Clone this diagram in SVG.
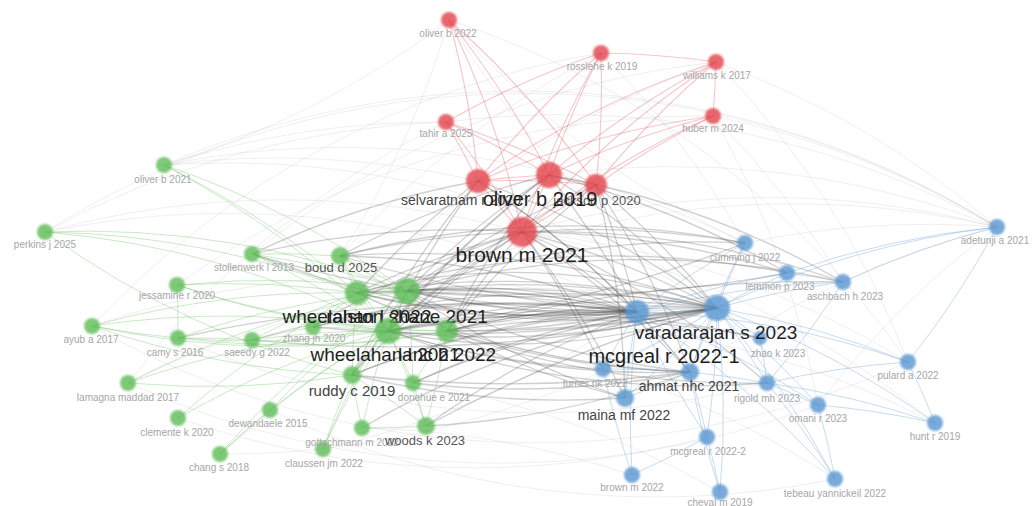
<svg xmlns="http://www.w3.org/2000/svg" width="1032" height="506" viewBox="0 0 1032 506">
<defs>
<style>
.c path{fill:none}
.er{stroke:#e0505a;stroke-opacity:.32;stroke-width:1.1}
.eg{stroke:#3a3a3a;stroke-opacity:.24;stroke-width:1.3}
.ef{stroke:#9a9a9a;stroke-opacity:.16;stroke-width:1}
.egr{stroke:#5dbb55;stroke-opacity:.32;stroke-width:1}
.eb{stroke:#5b97d1;stroke-opacity:.34;stroke-width:1}
.nr{fill:#e4474f;fill-opacity:.82;filter:url(#soft)}
.ng{fill:#5dbb55;fill-opacity:.8;filter:url(#soft)}
.nb{fill:#5b97d1;fill-opacity:.82;filter:url(#soft)}
text{font-family:"Liberation Sans",Arial,sans-serif;text-anchor:middle}
.ls{font-size:10px;fill:#a6a6a6}
.lm{font-size:13px;fill:#555}
.ll{font-size:19px;fill:#1e1e1e}
</style>
<filter id="soft" x="-30%" y="-30%" width="160%" height="160%"><feGaussianBlur stdDeviation="0.8"/></filter>
</defs>
<rect width="1032" height="506" fill="#fff"/>
<g id="connectors" class="c">
<g class="ef">
<path d="M449 20A900 900 0 0 1 164 165"/><path d="M449 20A900 900 0 0 1 340 256"/><path d="M449 20A900 900 0 0 0 745 243"/><path d="M446 122A900 900 0 0 0 164 165"/><path d="M446 122A900 900 0 0 0 45 232"/><path d="M716 62A900 900 0 0 1 997 227"/><path d="M713 116A900 900 0 0 1 997 227"/><path d="M713 116A900 900 0 0 1 843 282"/><path d="M601 53A900 900 0 0 1 745 243"/><path d="M716 62A900 900 0 0 1 908 362"/><path d="M713 116A900 900 0 0 1 818 405"/><path d="M164 165A900 900 0 0 1 478 181"/><path d="M45 232A900 900 0 0 1 522 232"/><path d="M164 165A900 900 0 0 1 717 308"/><path d="M45 232A900 900 0 0 1 637 312"/><path d="M997 227A900 900 0 0 0 407 291"/><path d="M997 227A900 900 0 0 0 522 232"/><path d="M997 227A900 900 0 0 0 549 175"/><path d="M908 362A900 900 0 0 0 522 232"/><path d="M935 423A900 900 0 0 0 388 331"/><path d="M835 479A900 900 0 0 0 388 331"/><path d="M720 492A900 900 0 0 0 352 375"/><path d="M632 475A900 900 0 0 0 362 428"/><path d="M323 449A900 900 0 0 0 637 312"/><path d="M220 454A900 900 0 0 0 717 308"/><path d="M128 383A900 900 0 0 1 717 308"/><path d="M92 326A900 900 0 0 1 637 312"/><path d="M449 20A900 900 0 0 0 717 308"/><path d="M601 53A900 900 0 0 0 340 256"/><path d="M716 62A900 900 0 0 0 357 293"/><path d="M935 423A900 900 0 0 0 522 232"/><path d="M164 165A900 900 0 0 1 745 243"/><path d="M45 232A900 900 0 0 1 997 227"/><path d="M164 165A900 900 0 0 1 997 227"/><path d="M446 122A900 900 0 0 1 997 227"/><path d="M449 20A900 900 0 0 1 908 362"/><path d="M716 62A900 900 0 0 0 252 254"/><path d="M713 116A900 900 0 0 0 177 285"/><path d="M601 53A900 900 0 0 0 92 326"/><path d="M446 122A900 900 0 0 0 128 383"/><path d="M128 383A900 900 0 0 0 818 405"/><path d="M178 418A900 900 0 0 0 707 437"/><path d="M270 410A900 900 0 0 0 835 479"/><path d="M92 326A900 900 0 0 0 908 362"/><path d="M178 338A900 900 0 0 0 767 383"/><path d="M997 227A900 900 0 0 0 745 243"/><path d="M997 227A900 900 0 0 0 818 405"/><path d="M997 227A900 900 0 0 0 690 372"/>
</g>
<g class="er">
<path d="M449 20A900 900 0 0 1 478 181"/><path d="M449 20A900 900 0 0 1 549 175"/><path d="M449 20A900 900 0 0 1 522 232"/><path d="M449 20A900 900 0 0 1 596 185"/><path d="M446 122A900 900 0 0 1 478 181"/><path d="M446 122A900 900 0 0 1 549 175"/><path d="M446 122A900 900 0 0 1 522 232"/><path d="M446 122A900 900 0 0 1 596 185"/><path d="M601 53A900 900 0 0 0 478 181"/><path d="M601 53A900 900 0 0 0 549 175"/><path d="M601 53A900 900 0 0 0 522 232"/><path d="M601 53A900 900 0 0 1 596 185"/><path d="M716 62A900 900 0 0 0 478 181"/><path d="M716 62A900 900 0 0 0 549 175"/><path d="M716 62A900 900 0 0 0 522 232"/><path d="M716 62A900 900 0 0 0 596 185"/><path d="M716 62A900 900 0 0 1 713 116"/><path d="M713 116A900 900 0 0 0 478 181"/><path d="M713 116A900 900 0 0 0 549 175"/><path d="M713 116A900 900 0 0 0 522 232"/><path d="M713 116A900 900 0 0 0 596 185"/><path d="M478 181A900 900 0 0 1 549 175"/><path d="M549 175A900 900 0 0 1 596 185"/><path d="M478 181A900 900 0 0 0 522 232"/><path d="M549 175A900 900 0 0 1 522 232"/><path d="M596 185A900 900 0 0 1 522 232"/><path d="M478 181A900 900 0 0 1 596 185"/><path d="M601 53A900 900 0 0 1 716 62"/><path d="M446 122A900 900 0 0 1 601 53"/>
</g>
<g class="eg">
<path d="M522 232A900 900 0 0 0 357 293"/><path d="M522 232A900 900 0 0 0 407 291"/><path d="M522 232A900 900 0 0 0 388 331"/><path d="M522 232A900 900 0 0 0 447 331"/><path d="M522 232A900 900 0 0 1 637 312"/><path d="M522 232A900 900 0 0 1 717 308"/><path d="M522 232A900 900 0 0 1 690 372"/><path d="M549 175A900 900 0 0 0 407 291"/><path d="M549 175A900 900 0 0 0 388 331"/><path d="M549 175A900 900 0 0 1 717 308"/><path d="M549 175A900 900 0 0 1 637 312"/><path d="M478 181A900 900 0 0 0 357 293"/><path d="M478 181A900 900 0 0 0 388 331"/><path d="M478 181A900 900 0 0 1 717 308"/><path d="M596 185A900 900 0 0 1 717 308"/><path d="M596 185A900 900 0 0 1 637 312"/><path d="M596 185A900 900 0 0 0 407 291"/><path d="M596 185A900 900 0 0 0 447 331"/><path d="M522 232A900 900 0 0 0 340 256"/><path d="M522 232A900 900 0 0 0 313 327"/><path d="M522 232A900 900 0 0 0 352 375"/><path d="M549 175A900 900 0 0 0 340 256"/><path d="M522 232A900 900 0 0 1 745 243"/><path d="M522 232A900 900 0 0 1 787 273"/><path d="M522 232A900 900 0 0 1 843 282"/><path d="M549 175A900 900 0 0 1 787 273"/><path d="M549 175A900 900 0 0 1 843 282"/><path d="M478 181A900 900 0 0 0 252 254"/><path d="M522 232A900 900 0 0 0 252 254"/><path d="M596 185A900 900 0 0 1 625 398"/><path d="M522 232A900 900 0 0 1 625 398"/><path d="M522 232A900 900 0 0 1 603 369"/><path d="M522 232A900 900 0 0 1 767 383"/><path d="M549 175A900 900 0 0 0 352 375"/><path d="M478 181A900 900 0 0 0 352 375"/><path d="M478 181A900 900 0 0 1 637 312"/><path d="M596 185A900 900 0 0 0 388 331"/><path d="M549 175A900 900 0 0 0 447 331"/><path d="M478 181A900 900 0 0 1 690 372"/><path d="M596 185A900 900 0 0 1 690 372"/>
<path d="M357 293A900 900 0 0 1 637 312"/><path d="M357 293A900 900 0 0 1 717 308"/><path d="M407 291A900 900 0 0 1 637 312"/><path d="M407 291A900 900 0 0 1 717 308"/><path d="M388 331A900 900 0 0 1 637 312"/><path d="M388 331A900 900 0 0 1 717 308"/><path d="M447 331A900 900 0 0 1 637 312"/><path d="M447 331A900 900 0 0 1 717 308"/><path d="M340 256A900 900 0 0 1 717 308"/><path d="M340 256A900 900 0 0 1 637 312"/><path d="M313 327A900 900 0 0 1 637 312"/><path d="M313 327A900 900 0 0 1 717 308"/><path d="M352 375A900 900 0 0 1 717 308"/><path d="M352 375A900 900 0 0 1 637 312"/><path d="M413 383A900 900 0 0 1 637 312"/><path d="M413 383A900 900 0 0 1 717 308"/><path d="M426 426A900 900 0 0 1 637 312"/><path d="M362 428A900 900 0 0 1 717 308"/><path d="M252 340A900 900 0 0 1 637 312"/><path d="M252 254A900 900 0 0 0 717 308"/><path d="M357 293A900 900 0 0 0 690 372"/><path d="M407 291A900 900 0 0 0 690 372"/><path d="M388 331A900 900 0 0 0 690 372"/><path d="M447 331A900 900 0 0 0 690 372"/><path d="M388 331A900 900 0 0 0 603 369"/><path d="M447 331A900 900 0 0 0 625 398"/><path d="M407 291A900 900 0 0 0 625 398"/><path d="M357 293A900 900 0 0 1 787 273"/><path d="M407 291A900 900 0 0 1 843 282"/><path d="M388 331A900 900 0 0 0 767 383"/><path d="M447 331A900 900 0 0 0 767 383"/><path d="M407 291A900 900 0 0 1 745 243"/><path d="M340 256A900 900 0 0 1 745 243"/><path d="M413 383A900 900 0 0 0 690 372"/><path d="M426 426A900 900 0 0 0 690 372"/><path d="M352 375A900 900 0 0 0 625 398"/><path d="M388 331A900 900 0 0 1 760 338"/><path d="M447 331A900 900 0 0 1 760 338"/><path d="M357 293A900 900 0 0 0 717 308"/><path d="M407 291A900 900 0 0 0 637 312"/><path d="M388 331A900 900 0 0 0 717 308"/><path d="M447 331A900 900 0 0 0 637 312"/><path d="M357 293A900 900 0 0 0 637 312"/><path d="M407 291A900 900 0 0 0 717 308"/><path d="M357 293A1400 1400 0 0 1 637 312"/><path d="M407 291A1400 1400 0 0 1 717 308"/><path d="M388 331A1400 1400 0 0 1 637 312"/><path d="M447 331A1400 1400 0 0 0 717 308"/><path d="M447 331A600 600 0 0 1 637 312"/><path d="M407 291A600 600 0 0 1 637 312"/><path d="M388 331A600 600 0 0 0 717 308"/><path d="M357 293A600 600 0 0 1 717 308"/><path d="M340 256A1400 1400 0 0 0 637 312"/><path d="M313 327A1400 1400 0 0 0 717 308"/><path d="M252 340A1400 1400 0 0 0 717 308"/><path d="M178 338A1400 1400 0 0 1 637 312"/><path d="M252 254A1400 1400 0 0 0 637 312"/><path d="M407 291A1400 1400 0 0 0 787 273"/><path d="M447 331A1400 1400 0 0 1 843 282"/><path d="M388 331A1400 1400 0 0 0 745 243"/><path d="M352 375A1400 1400 0 0 0 690 372"/><path d="M426 426A1400 1400 0 0 1 717 308"/>
</g>
<g class="egr">
<path d="M164 165A900 900 0 0 1 357 293"/><path d="M164 165A900 900 0 0 1 407 291"/><path d="M164 165A900 900 0 0 1 388 331"/><path d="M45 232A900 900 0 0 1 357 293"/><path d="M45 232A900 900 0 0 1 388 331"/><path d="M45 232A900 900 0 0 1 407 291"/><path d="M45 232A900 900 0 0 0 352 375"/><path d="M252 254A900 900 0 0 1 357 293"/><path d="M252 254A900 900 0 0 1 407 291"/><path d="M252 254A900 900 0 0 1 388 331"/><path d="M340 256A900 900 0 0 1 357 293"/><path d="M340 256A900 900 0 0 1 407 291"/><path d="M340 256A900 900 0 0 0 388 331"/><path d="M340 256A900 900 0 0 1 447 331"/><path d="M177 285A900 900 0 0 1 357 293"/><path d="M177 285A900 900 0 0 1 407 291"/><path d="M177 285A900 900 0 0 0 388 331"/><path d="M177 285A900 900 0 0 0 447 331"/><path d="M357 293A900 900 0 0 1 407 291"/><path d="M357 293A900 900 0 0 0 388 331"/><path d="M407 291A900 900 0 0 0 388 331"/><path d="M407 291A900 900 0 0 1 447 331"/><path d="M388 331A900 900 0 0 1 447 331"/><path d="M357 293A900 900 0 0 0 447 331"/><path d="M92 326A900 900 0 0 1 357 293"/><path d="M92 326A900 900 0 0 1 388 331"/><path d="M92 326A900 900 0 0 0 178 338"/><path d="M178 338A900 900 0 0 1 252 340"/><path d="M252 340A900 900 0 0 1 313 327"/><path d="M178 338A900 900 0 0 1 407 291"/><path d="M252 340A900 900 0 0 1 388 331"/><path d="M313 327A900 900 0 0 1 357 293"/><path d="M313 327A900 900 0 0 1 388 331"/><path d="M128 383A900 900 0 0 1 388 331"/><path d="M128 383A900 900 0 0 1 407 291"/><path d="M128 383A900 900 0 0 0 352 375"/><path d="M352 375A900 900 0 0 1 388 331"/><path d="M352 375A900 900 0 0 1 357 293"/><path d="M352 375A900 900 0 0 1 407 291"/><path d="M413 383A900 900 0 0 0 388 331"/><path d="M413 383A900 900 0 0 0 447 331"/><path d="M413 383A900 900 0 0 0 407 291"/><path d="M413 383A900 900 0 0 1 426 426"/><path d="M178 418A900 900 0 0 1 388 331"/><path d="M178 418A900 900 0 0 1 357 293"/><path d="M270 410A900 900 0 0 1 388 331"/><path d="M270 410A900 900 0 0 1 407 291"/><path d="M362 428A900 900 0 0 1 388 331"/><path d="M362 428A900 900 0 0 0 426 426"/><path d="M362 428A900 900 0 0 1 352 375"/><path d="M426 426A900 900 0 0 0 388 331"/><path d="M426 426A900 900 0 0 0 447 331"/><path d="M426 426A900 900 0 0 0 352 375"/><path d="M220 454A900 900 0 0 1 388 331"/><path d="M220 454A900 900 0 0 1 270 410"/><path d="M220 454A900 900 0 0 1 407 291"/><path d="M323 449A900 900 0 0 1 388 331"/><path d="M323 449A900 900 0 0 1 352 375"/><path d="M323 449A900 900 0 0 1 407 291"/><path d="M92 326A900 900 0 0 0 352 375"/><path d="M177 285A900 900 0 0 1 178 338"/><path d="M252 340A900 900 0 0 1 357 293"/><path d="M178 338A900 900 0 0 0 388 331"/><path d="M252 254A900 900 0 0 1 340 256"/><path d="M178 338A900 900 0 0 0 447 331"/><path d="M92 326A900 900 0 0 0 447 331"/>
</g>
<g class="eb">
<path d="M997 227A900 900 0 0 0 717 308"/><path d="M997 227A900 900 0 0 0 843 282"/><path d="M997 227A900 900 0 0 0 787 273"/><path d="M997 227A900 900 0 0 1 908 362"/><path d="M745 243A900 900 0 0 0 637 312"/><path d="M745 243A900 900 0 0 0 717 308"/><path d="M787 273A900 900 0 0 0 637 312"/><path d="M787 273A900 900 0 0 0 717 308"/><path d="M787 273A900 900 0 0 1 843 282"/><path d="M843 282A900 900 0 0 0 637 312"/><path d="M843 282A900 900 0 0 0 717 308"/><path d="M637 312A900 900 0 0 1 717 308"/><path d="M637 312A900 900 0 0 0 603 369"/><path d="M637 312A900 900 0 0 1 690 372"/><path d="M637 312A900 900 0 0 0 625 398"/><path d="M717 308A900 900 0 0 0 690 372"/><path d="M717 308A900 900 0 0 1 767 383"/><path d="M717 308A900 900 0 0 1 760 338"/><path d="M760 338A900 900 0 0 1 767 383"/><path d="M603 369A900 900 0 0 1 690 372"/><path d="M690 372A900 900 0 0 1 625 398"/><path d="M690 372A900 900 0 0 1 767 383"/><path d="M767 383A900 900 0 0 1 818 405"/><path d="M818 405A900 900 0 0 1 935 423"/><path d="M908 362A900 900 0 0 0 717 308"/><path d="M908 362A900 900 0 0 0 637 312"/><path d="M935 423A900 900 0 0 0 717 308"/><path d="M935 423A900 900 0 0 0 767 383"/><path d="M707 437A900 900 0 0 1 637 312"/><path d="M707 437A900 900 0 0 0 717 308"/><path d="M707 437A900 900 0 0 0 690 372"/><path d="M632 475A900 900 0 0 1 637 312"/><path d="M632 475A900 900 0 0 1 603 369"/><path d="M720 492A900 900 0 0 0 717 308"/><path d="M720 492A900 900 0 0 1 690 372"/><path d="M835 479A900 900 0 0 0 717 308"/><path d="M835 479A900 900 0 0 0 637 312"/><path d="M835 479A900 900 0 0 0 767 383"/><path d="M625 398A900 900 0 0 0 717 308"/><path d="M818 405A900 900 0 0 0 717 308"/><path d="M818 405A900 900 0 0 0 637 312"/><path d="M745 243A900 900 0 0 0 690 372"/><path d="M843 282A900 900 0 0 1 767 383"/><path d="M603 369A900 900 0 0 0 717 308"/><path d="M632 475A900 900 0 0 0 707 437"/><path d="M720 492A900 900 0 0 0 707 437"/><path d="M908 362A900 900 0 0 1 935 423"/><path d="M908 362A900 900 0 0 0 767 383"/><path d="M835 479A900 900 0 0 0 818 405"/>
</g>
</g>
<g id="nodes">
<g id="n-oliver-b-2022"><circle class="nr" cx="449" cy="20" r="8"/><text class="ls" x="448" y="37">oliver b 2022</text></g>
<g id="n-rosslehe-k-2019"><circle class="nr" cx="601" cy="53" r="8"/><text class="ls" x="602" y="70">rosslehe k 2019</text></g>
<g id="n-williams-k-2017"><circle class="nr" cx="716" cy="62" r="8"/><text class="ls" x="717" y="79">williams k 2017</text></g>
<g id="n-huber-m-2024"><circle class="nr" cx="713" cy="116" r="8"/><text class="ls" x="713" y="132">huber m 2024</text></g>
<g id="n-tahir-a-2025"><circle class="nr" cx="446" cy="122" r="8"/><text class="ls" x="446" y="137">tahir a 2025</text></g>
<g id="n-selvaratnam-r-2020"><circle class="nr" cx="478" cy="181" r="12"/><text style="font-size:14px;fill:#444" x="461" y="205">selvaratnam r 2020</text></g>
<g id="n-jackson-p-2020"><circle class="nr" cx="596" cy="185" r="11"/><text style="font-size:13px;fill:#555" x="597" y="205">jackson p 2020</text></g>
<g id="n-oliver-b-2019"><circle class="nr" cx="549" cy="175" r="13"/><text class="ll" style="font-size:20px" x="540" y="206">oliver b 2019</text></g>
<g id="n-brown-m-2021"><circle class="nr" cx="522" cy="232" r="15"/><text class="ll" style="font-size:21px" x="522" y="262">brown m 2021</text></g>

<g id="n-oliver-b-2021"><circle class="ng" cx="164" cy="165" r="8"/><text class="ls" x="163" y="183">oliver b 2021</text></g>
<g id="n-perkins-j-2025"><circle class="ng" cx="45" cy="232" r="8"/><text class="ls" x="45" y="248">perkins j 2025</text></g>
<g id="n-stollenwerk-l-2013"><circle class="ng" cx="252" cy="254" r="8"/><text class="ls" x="254" y="271">stollenwerk l 2013</text></g>
<g id="n-boud-d-2025"><circle class="ng" cx="340" cy="256" r="9"/><text class="lm" x="341" y="272">boud d 2025</text></g>
<g id="n-jessamine-r-2020"><circle class="ng" cx="177" cy="285" r="8"/><text class="ls" x="177" y="299">jessamine r 2020</text></g>
<g id="n-ayub-a-2017"><circle class="ng" cx="92" cy="326" r="8"/><text class="ls" x="91" y="343">ayub a 2017</text></g>
<g id="n-camy-s-2016"><circle class="ng" cx="178" cy="338" r="8"/><text class="ls" x="175" y="356">camy s 2016</text></g>
<g id="n-saeedy-g-2022"><circle class="ng" cx="252" cy="340" r="8"/><text class="ls" x="257" y="356">saeedy g 2022</text></g>
<g id="n-zhang-jh-2020"><circle class="ng" cx="313" cy="327" r="8"/><text class="ls" x="314" y="342">zhang jh 2020</text></g>
<g id="n-lamagna-maddad-2017"><circle class="ng" cx="128" cy="383" r="8"/><text class="ls" x="128" y="401">lamagna maddad 2017</text></g>
<g id="n-clemente-k-2020"><circle class="ng" cx="178" cy="418" r="8"/><text class="ls" x="177" y="436">clemente k 2020</text></g>
<g id="n-dewandaele-2015"><circle class="ng" cx="270" cy="410" r="8"/><text class="ls" x="268" y="427">dewandaele 2015</text></g>
<g id="n-chang-s-2018"><circle class="ng" cx="220" cy="454" r="8"/><text class="ls" x="219" y="471">chang s 2018</text></g>
<g id="n-claussen-jm-2022"><circle class="ng" cx="323" cy="449" r="8"/><text class="ls" x="324" y="467">claussen jm 2022</text></g>
<g id="n-gottschmann-m-2022"><circle class="ng" cx="362" cy="428" r="8"/><text class="ls" x="352" y="446">gottschmann m 2022</text></g>
<g id="n-donohue-e-2021"><circle class="ng" cx="413" cy="383" r="8"/><text class="ls" x="434" y="401">donohue e 2021</text></g>
<g id="n-ruddy-c-2019"><circle class="ng" cx="352" cy="375" r="9"/><text style="font-size:15px;fill:#444" x="352" y="396">ruddy c 2019</text></g>
<g id="n-woods-k-2023"><circle class="ng" cx="426" cy="426" r="9"/><text class="lm" x="425" y="445">woods k 2023</text></g>
<g id="n-wheelahan-l-2022"><circle class="ng" cx="357" cy="293" r="12"/><text class="ll" x="357" y="323">wheelahan l 2022</text></g>
<g id="n-ralston-shane-2021"><circle class="ng" cx="407" cy="291" r="13"/><text class="ll" x="407" y="323">ralston shane 2021</text></g>
<g id="n-wheelahan-l-2021"><circle class="ng" cx="388" cy="331" r="13"/><text class="ll" x="385" y="361">wheelahan l 2021</text></g>
<g id="n-lanc-b-2022"><circle class="ng" cx="447" cy="331" r="11"/><text class="ll" x="447" y="361">lanc b 2022</text></g>

<g id="n-adetunji-a-2021"><circle class="nb" cx="997" cy="227" r="8"/><text class="ls" x="995" y="244">adetunji a 2021</text></g>
<g id="n-cumming-j-2022"><circle class="nb" cx="745" cy="243" r="8"/><text class="ls" x="745" y="261">cumming j 2022</text></g>
<g id="n-lemmon-p-2023"><circle class="nb" cx="787" cy="273" r="8"/><text class="ls" x="780" y="290">lemmon p 2023</text></g>
<g id="n-aschbach-h-2023"><circle class="nb" cx="843" cy="282" r="8"/><text class="ls" x="845" y="300">aschbach h 2023</text></g>
<g id="n-zhao-k-2023"><circle class="nb" cx="760" cy="338" r="7"/><text class="ls" x="778" y="357">zhao k 2023</text></g>
<g id="n-turner-nk-2022"><circle class="nb" cx="603" cy="369" r="8"/><text class="ls" x="595" y="387">turner nk 2022</text></g>
<g id="n-rigold-mh-2023"><circle class="nb" cx="767" cy="383" r="8"/><text class="ls" x="767" y="402">rigold mh 2023</text></g>
<g id="n-omani-r-2023"><circle class="nb" cx="818" cy="405" r="8"/><text class="ls" x="818" y="422">omani r 2023</text></g>
<g id="n-pulard-a-2022"><circle class="nb" cx="908" cy="362" r="8"/><text class="ls" x="908" y="379">pulard a 2022</text></g>
<g id="n-hunt-r-2019"><circle class="nb" cx="935" cy="423" r="8"/><text class="ls" x="935" y="440">hunt r 2019</text></g>
<g id="n-mcgreal-r-2022-2"><circle class="nb" cx="707" cy="437" r="8"/><text class="ls" x="708" y="455">mcgreal r 2022-2</text></g>
<g id="n-brown-m-2022"><circle class="nb" cx="632" cy="475" r="8"/><text class="ls" x="632" y="491">brown m 2022</text></g>
<g id="n-cheval-m-2019"><circle class="nb" cx="720" cy="492" r="8"/><text class="ls" x="720" y="506">cheval m 2019</text></g>
<g id="n-tebeau-yannickeil-2022"><circle class="nb" cx="835" cy="479" r="8"/><text class="ls" x="835" y="497">tebeau yannickeil 2022</text></g>
<g id="n-ahmat-nhc-2021"><circle class="nb" cx="690" cy="372" r="9"/><text style="font-size:14px;fill:#444" x="689" y="391">ahmat nhc 2021</text></g>
<g id="n-maina-mf-2022"><circle class="nb" cx="625" cy="398" r="9"/><text style="font-size:14px;fill:#444" x="624" y="420">maina mf 2022</text></g>
<g id="n-varadarajan-s-2023"><circle class="nb" cx="717" cy="308" r="13"/><text class="ll" x="716" y="339">varadarajan s 2023</text></g>
<g id="n-mcgreal-r-2022-1"><circle class="nb" cx="637" cy="312" r="12"/><text class="ll" style="font-size:20px" x="664" y="363">mcgreal r 2022-1</text></g>
</g>
</svg>
